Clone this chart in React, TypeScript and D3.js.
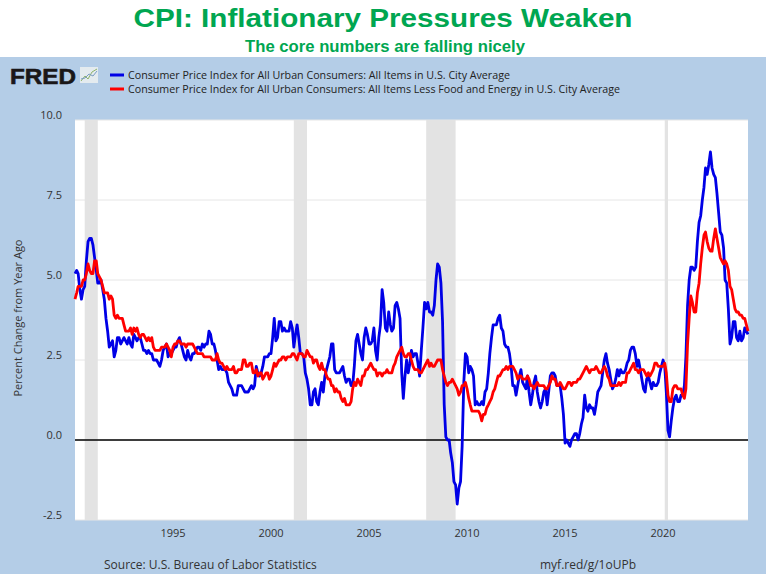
import React from "react";
import * as d3 from "d3";

// Monthly year-over-year % change, Jan 1990 .. May 2024
const startYear = 1990;
const cpiAll: number[] = [
  // 1990
  5.2, 5.3, 5.2, 4.7, 4.4, 4.7, 4.8, 5.6, 6.2, 6.3, 6.3, 6.1,
  // 1991
  5.7, 5.3, 4.9, 4.9, 5.0, 4.7, 4.4, 3.8, 3.4, 2.9, 3.0, 3.1,
  // 1992
  2.6, 2.8, 3.2, 3.2, 3.0, 3.1, 3.2, 3.1, 3.0, 3.2, 3.0, 2.9,
  // 1993
  3.3, 3.2, 3.1, 3.2, 3.2, 3.0, 2.8, 2.8, 2.7, 2.8, 2.7, 2.7,
  // 1994
  2.5, 2.5, 2.5, 2.4, 2.3, 2.5, 2.8, 2.9, 3.0, 2.6, 2.7, 2.7,
  // 1995
  2.8, 2.9, 2.9, 3.1, 3.2, 3.0, 2.8, 2.6, 2.5, 2.8, 2.6, 2.5,
  // 1996
  2.7, 2.7, 2.8, 2.9, 2.9, 2.8, 3.0, 2.9, 3.0, 3.0, 3.4, 3.3,
  // 1997
  3.0, 3.0, 2.8, 2.5, 2.2, 2.3, 2.2, 2.2, 2.2, 2.1, 1.8, 1.7,
  // 1998
  1.6, 1.4, 1.4, 1.4, 1.7, 1.7, 1.7, 1.6, 1.5, 1.5, 1.5, 1.6,
  // 1999
  1.7, 1.6, 1.7, 2.3, 2.1, 2.0, 2.1, 2.3, 2.6, 2.6, 2.6, 2.7,
  // 2000
  2.7, 3.2, 3.8, 3.1, 3.2, 3.7, 3.7, 3.4, 3.5, 3.4, 3.4, 3.4,
  // 2001
  3.7, 3.5, 2.9, 3.3, 3.6, 3.2, 2.7, 2.7, 2.6, 2.1, 1.9, 1.6,
  // 2002
  1.1, 1.1, 1.5, 1.6, 1.2, 1.1, 1.5, 1.8, 1.5, 2.0, 2.2, 2.4,
  // 2003
  2.6, 3.0, 3.0, 2.2, 2.1, 2.1, 2.1, 2.2, 2.3, 2.0, 1.8, 1.9,
  // 2004
  1.9, 1.7, 1.7, 2.3, 3.1, 3.3, 3.0, 2.7, 2.5, 3.2, 3.5, 3.3,
  // 2005
  3.0, 3.0, 3.1, 3.5, 2.8, 2.5, 3.2, 3.6, 4.7, 4.3, 3.5, 3.4,
  // 2006
  4.0, 3.6, 3.4, 3.5, 4.2, 4.3, 4.1, 3.8, 2.1, 1.3, 2.0, 2.5,
  // 2007
  2.1, 2.4, 2.8, 2.6, 2.7, 2.7, 2.4, 2.0, 2.8, 3.5, 4.3, 4.1,
  // 2008
  4.3, 4.0, 4.0, 3.9, 4.2, 5.0, 5.5, 5.4, 4.9, 3.7, 1.1, 0.1,
  // 2009
  0.0, 0.0, -0.4, -0.7, -1.3, -1.4, -2.0, -1.5, -1.3, -0.2, 1.8, 2.7,
  // 2010
  2.6, 2.1, 2.3, 2.2, 2.0, 1.1, 1.2, 1.1, 1.1, 1.2, 1.1, 1.5,
  // 2011
  1.6, 2.1, 2.7, 3.2, 3.6, 3.6, 3.6, 3.8, 3.9, 3.5, 3.4, 3.0,
  // 2012
  2.9, 2.9, 2.7, 2.3, 1.7, 1.7, 1.4, 1.7, 2.0, 2.2, 1.8, 1.7,
  // 2013
  1.6, 2.0, 1.5, 1.1, 1.4, 1.8, 2.0, 1.5, 1.2, 1.0, 1.2, 1.5,
  // 2014
  1.6, 1.1, 1.5, 2.0, 2.1, 2.1, 2.0, 1.7, 1.7, 1.7, 1.3, 0.8,
  // 2015
  -0.1, 0.0, -0.1, -0.2, 0.0, 0.1, 0.2, 0.2, 0.0, 0.2, 0.5, 0.7,
  // 2016
  1.4, 1.0, 0.9, 1.1, 1.0, 1.0, 0.8, 1.1, 1.5, 1.6, 1.7, 2.1,
  // 2017
  2.5, 2.7, 2.4, 2.2, 1.9, 1.6, 1.7, 1.9, 2.2, 2.0, 2.2, 2.1,
  // 2018
  2.1, 2.2, 2.4, 2.5, 2.8, 2.9, 2.9, 2.7, 2.3, 2.5, 2.2, 1.9,
  // 2019
  1.6, 1.5, 1.9, 2.0, 1.8, 1.6, 1.8, 1.7, 1.7, 1.8, 2.1, 2.3,
  // 2020
  2.5, 2.3, 1.5, 0.3, 0.1, 0.6, 1.0, 1.3, 1.4, 1.2, 1.2, 1.4,
  // 2021
  1.4, 1.7, 2.6, 4.2, 5.0, 5.4, 5.4, 5.3, 5.4, 6.2, 6.8, 7.0,
  // 2022
  7.5, 7.9, 8.5, 8.3, 8.6, 9.0, 8.5, 8.3, 8.2, 7.7, 7.1, 6.5,
  // 2023
  6.4, 6.0, 5.0, 4.9, 4.1, 3.0, 3.2, 3.7, 3.7, 3.2, 3.1, 3.4,
  // 2024
  3.1, 3.2, 3.5, 3.4, 3.3,
];

const cpiCore: number[] = [
  // 1990
  4.4, 4.6, 4.8, 4.8, 4.8, 5.0, 5.0, 5.2, 5.5, 5.3, 5.2, 5.2,
  // 1991
  5.6, 5.6, 5.2, 5.1, 5.0, 4.8, 4.6, 4.6, 4.6, 4.4, 4.5, 4.4,
  // 1992
  3.9, 3.8, 3.9, 3.8, 3.8, 3.8, 3.6, 3.4, 3.4, 3.4, 3.5, 3.3,
  // 1993
  3.5, 3.4, 3.5, 3.3, 3.2, 3.3, 3.3, 3.2, 3.1, 3.2, 3.1, 3.2,
  // 1994
  2.9, 2.8, 2.8, 2.8, 2.8, 2.9, 2.9, 2.9, 3.0, 2.9, 2.8, 2.6,
  // 1995
  2.9, 3.0, 3.0, 3.1, 3.1, 3.0, 3.0, 3.0, 2.9, 3.0, 3.0, 3.0,
  // 1996
  3.0, 2.9, 2.8, 2.7, 2.7, 2.7, 2.7, 2.6, 2.6, 2.6, 2.6, 2.6,
  // 1997
  2.5, 2.5, 2.5, 2.7, 2.5, 2.4, 2.4, 2.3, 2.2, 2.3, 2.2, 2.2,
  // 1998
  2.2, 2.3, 2.1, 2.1, 2.2, 2.2, 2.2, 2.5, 2.5, 2.3, 2.3, 2.4,
  // 1999
  2.4, 2.1, 2.1, 2.2, 2.0, 2.1, 2.1, 1.9, 2.0, 2.1, 2.1, 1.9,
  // 2000
  2.0, 2.2, 2.4, 2.3, 2.4, 2.5, 2.5, 2.6, 2.6, 2.5, 2.6, 2.6,
  // 2001
  2.6, 2.7, 2.7, 2.6, 2.5, 2.7, 2.7, 2.7, 2.6, 2.6, 2.8, 2.7,
  // 2002
  2.6, 2.6, 2.4, 2.5, 2.5, 2.3, 2.2, 2.4, 2.2, 2.2, 2.0, 1.9,
  // 2003
  1.9, 1.7, 1.7, 1.5, 1.6, 1.5, 1.5, 1.3, 1.2, 1.3, 1.1, 1.1,
  // 2004
  1.1, 1.2, 1.6, 1.8, 1.7, 1.9, 1.8, 1.7, 2.0, 2.0, 2.2, 2.2,
  // 2005
  2.3, 2.4, 2.3, 2.2, 2.2, 2.0, 2.1, 2.1, 2.0, 2.1, 2.1, 2.2,
  // 2006
  2.1, 2.1, 2.1, 2.3, 2.4, 2.6, 2.7, 2.8, 2.9, 2.7, 2.6, 2.6,
  // 2007
  2.7, 2.7, 2.5, 2.3, 2.2, 2.2, 2.2, 2.1, 2.1, 2.2, 2.3, 2.4,
  // 2008
  2.5, 2.3, 2.4, 2.3, 2.3, 2.4, 2.5, 2.5, 2.5, 2.2, 2.0, 1.8,
  // 2009
  1.7, 1.8, 1.8, 1.9, 1.8, 1.7, 1.6, 1.4, 1.5, 1.7, 1.7, 1.8,
  // 2010
  1.6, 1.3, 1.1, 0.9, 0.9, 0.9, 0.9, 0.9, 0.8, 0.6, 0.8, 0.8,
  // 2011
  1.0, 1.1, 1.2, 1.3, 1.5, 1.6, 1.8, 2.0, 2.0, 2.1, 2.2, 2.2,
  // 2012
  2.3, 2.2, 2.3, 2.3, 2.3, 2.2, 2.1, 1.9, 2.0, 2.0, 1.9, 1.9,
  // 2013
  1.9, 2.0, 1.9, 1.7, 1.7, 1.6, 1.7, 1.8, 1.7, 1.7, 1.7, 1.7,
  // 2014
  1.6, 1.6, 1.7, 1.8, 2.0, 1.9, 1.9, 1.7, 1.7, 1.8, 1.7, 1.6,
  // 2015
  1.6, 1.7, 1.8, 1.8, 1.7, 1.8, 1.8, 1.8, 1.9, 1.9, 2.0, 2.1,
  // 2016
  2.2, 2.3, 2.2, 2.1, 2.2, 2.2, 2.2, 2.3, 2.2, 2.1, 2.1, 2.2,
  // 2017
  2.3, 2.2, 2.0, 1.9, 1.7, 1.7, 1.7, 1.7, 1.7, 1.8, 1.7, 1.8,
  // 2018
  1.8, 1.8, 2.1, 2.1, 2.2, 2.3, 2.4, 2.2, 2.2, 2.1, 2.2, 2.2,
  // 2019
  2.2, 2.1, 2.0, 2.1, 2.0, 2.1, 2.2, 2.4, 2.4, 2.3, 2.3, 2.3,
  // 2020
  2.3, 2.4, 2.1, 1.4, 1.2, 1.2, 1.6, 1.7, 1.7, 1.6, 1.6, 1.6,
  // 2021
  1.4, 1.3, 1.6, 3.0, 3.8, 4.5, 4.3, 4.0, 4.0, 4.6, 4.9, 5.5,
  // 2022
  6.0, 6.4, 6.5, 6.2, 6.0, 5.9, 5.9, 6.3, 6.6, 6.3, 6.0, 5.7,
  // 2023
  5.6, 5.5, 5.6, 5.5, 5.3, 4.8, 4.7, 4.4, 4.1, 4.0, 4.0, 3.9,
  // 2024
  3.9, 3.8, 3.8, 3.6, 3.4,
];

const recessions: [string, string][] = [
  ["1990-07-01", "1991-03-01"],
  ["2001-03-01", "2001-11-01"],
  ["2007-12-01", "2009-06-01"],
  ["2020-02-01", "2020-04-01"],
];

const yTicks = [-2.5, 0, 2.5, 5.0, 7.5, 10.0];
const xTickYears = [1995, 2000, 2005, 2010, 2015, 2020];

const titleText = "CPI: Inflationary Pressures Weaken";
const subtitleText = "The core numbers are falling nicely";
const legendLabels = [
  "Consumer Price Index for All Urban Consumers: All Items in U.S. City Average",
  "Consumer Price Index for All Urban Consumers: All Items Less Food and Energy in U.S. City Average",
];
const yAxisTitle = "Percent Change from Year Ago";
const sourceText = "Source: U.S. Bureau of Labor Statistics";
const linkText = "myf.red/g/1oUPb";

const W = 766;
const H = 574;
const plot = { left: 75, right: 748, top: 120, bottom: 520 };
const BG = "#b4cde7";
const GREEN = "#00a651";
const BLUE = "#0000e6";
const RED = "#ff0000";

export default function App() {
  const x = d3
    .scaleTime()
    .domain([new Date(1990, 0, 1), new Date(2024, 4, 1)])
    .range([plot.left, plot.right]);
  const y = d3.scaleLinear().domain([-2.5, 10]).range([plot.bottom, plot.top]);

  const toPoints = (arr: number[]) =>
    arr.map((v, i) => ({ d: new Date(startYear, i, 1), v }));

  const line = d3
    .line<{ d: Date; v: number }>()
    .x((p) => x(p.d))
    .y((p) => y(p.v));

  const fmt = (v: number) => d3.format(".1f")(v).replace("\u2212", "-");

  return (
    <svg
      width={W}
      height={H}
      style={{ position: "absolute", left: 0, top: 0, display: "block" }}
      fontFamily="'Open Sans', 'DejaVu Sans', sans-serif"
    >
      <rect x={0} y={0} width={W} height={H} fill={BG} />
      <rect x={0} y={0} width={W} height={57} fill="#ffffff" />

      {/* Titles */}
      <text
        x={383}
        y={27}
        textAnchor="middle"
        fontFamily="'Liberation Sans', Arial, sans-serif"
        fontWeight="bold"
        fontSize={26}
        fill={GREEN}
        textLength={499}
        lengthAdjust="spacingAndGlyphs"
      >
        {titleText}
      </text>
      <text
        x={385}
        y={52}
        textAnchor="middle"
        fontFamily="'Liberation Sans', Arial, sans-serif"
        fontWeight="bold"
        fontSize={17}
        fill={GREEN}
        textLength={280}
        lengthAdjust="spacingAndGlyphs"
      >
        {subtitleText}
      </text>

      {/* FRED logo */}
      <text
        x={10}
        y={84}
        fontFamily="'Liberation Sans', Arial, sans-serif"
        fontWeight="bold"
        fontSize={22}
        fill="#1a1718"
        stroke="#1a1718"
        strokeWidth={0.6}
        textLength={66}
        lengthAdjust="spacingAndGlyphs"
      >
        FRED
      </text>
      <rect x={80} y={67} width={18} height={16} fill="#e4ebef" />
      <polyline
        points="81,81 85,76 88,79 92,72 97,69"
        fill="none"
        stroke="#8fb46a"
        strokeWidth={1}
      />
      <polyline
        points="81,79 85,78 89,74 93,76 97,71"
        fill="none"
        stroke="#7a9cc4"
        strokeWidth={1}
      />

      {/* Legend */}
      <line x1={110} x2={124} y1={75} y2={75} stroke={BLUE} strokeWidth={3} />
      <line x1={110} x2={124} y1={89} y2={89} stroke={RED} strokeWidth={3} />
      <text
        x={128}
        y={79}
        fontSize={11}
        fill="#222"
        textLength={382}
        lengthAdjust="spacingAndGlyphs"
      >
        {legendLabels[0]}
      </text>
      <text
        x={128}
        y={93}
        fontSize={11}
        fill="#222"
        textLength={492}
        lengthAdjust="spacingAndGlyphs"
      >
        {legendLabels[1]}
      </text>

      {/* Plot background */}
      <rect
        x={plot.left}
        y={plot.top}
        width={plot.right - plot.left}
        height={plot.bottom - plot.top}
        fill="#ffffff"
      />

      {/* Gridlines */}
      {yTicks.map((t) => (
        <line
          key={"g" + t}
          x1={plot.left}
          x2={plot.right}
          y1={y(t)}
          y2={y(t)}
          stroke="#e6e6e6"
          strokeWidth={1}
        />
      ))}

      {/* Recession bands */}
      {recessions.map(([a, b]) => {
        const x0 = x(new Date(a + "T00:00:00"));
        const x1 = x(new Date(b + "T00:00:00"));
        return (
          <rect
            key={a}
            x={x0}
            y={plot.top}
            width={Math.max(2, x1 - x0)}
            height={plot.bottom - plot.top}
            fill="#e3e3e3"
          />
        );
      })}

      {/* Zero line */}
      <line
        x1={plot.left}
        x2={plot.right}
        y1={y(0)}
        y2={y(0)}
        stroke="#000"
        strokeWidth={1.6}
      />

      {/* Series */}
      <path
        d={line(toPoints(cpiAll)) || ""}
        fill="none"
        stroke={BLUE}
        strokeWidth={2.8}
        strokeLinejoin="round"
      />
      <path
        d={line(toPoints(cpiCore)) || ""}
        fill="none"
        stroke={RED}
        strokeWidth={2.8}
        strokeLinejoin="round"
      />

      {/* Y axis labels */}
      {yTicks.map((t) => (
        <text
          key={"y" + t}
          x={62}
          y={y(t) - 1}
          textAnchor="end"
          fontSize={11}
          fill="#333"
        >
          {fmt(t)}
        </text>
      ))}

      {/* X axis labels */}
      {xTickYears.map((yr) => (
        <text
          key={"x" + yr}
          x={x(new Date(yr, 0, 1))}
          y={537}
          textAnchor="middle"
          fontSize={11}
          fill="#333"
        >
          {yr}
        </text>
      ))}

      {/* Y axis title */}
      <text
        transform="translate(22,318) rotate(-90)"
        textAnchor="middle"
        fontSize={11}
        fill="#333"
      >
        {yAxisTitle}
      </text>

      {/* Footer */}
      <text x={104} y={569} fontSize={12} fill="#333">
        {sourceText}
      </text>
      <text x={540} y={569} fontSize={12} fill="#333">
        {linkText}
      </text>
    </svg>
  );
}
